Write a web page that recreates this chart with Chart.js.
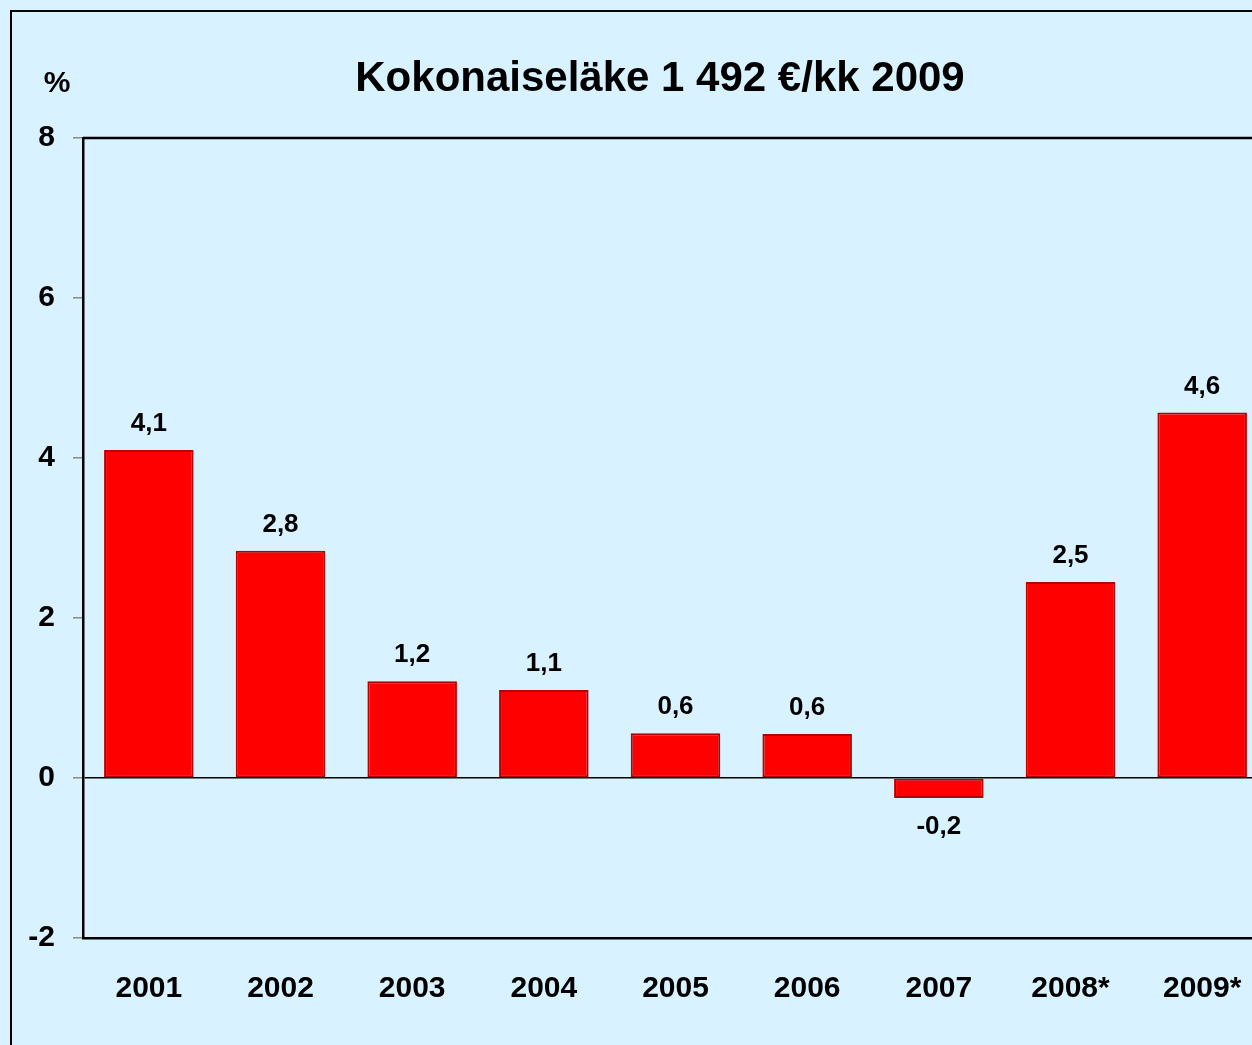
<!DOCTYPE html>
<html>
<head>
<meta charset="utf-8">
<script src="https://cdn.jsdelivr.net/npm/chart.js@4/dist/chart.umd.min.js"></script>
<style>
  html, body { margin: 0; padding: 0; overflow: hidden; background: #D9F2FF; }
  canvas { display: block; }
</style>
</head>
<body>
<canvas id="graphe" width="1300" height="1045"></canvas>
<script>
const vuodet = ['2001', '2002', '2003', '2004', '2005', '2006', '2007', '2008*', '2009*'];
const muutos = [4.1, 2.84, 1.21, 1.1, 0.56, 0.55, -0.25, 2.45, 4.57];
const arvoTekstit = ['4,1', '2,8', '1,2', '1,1', '0,6', '0,6', '-0,2', '2,5', '4,6'];
const otsikko = 'Kokonaiseläke 1 492 €/kk 2009';
const fontti = 'Liberation Sans, Arial, sans-serif';

// tausta, kehys, otsikko ja arvot
const piirto = {
    id: 'piirto',
    beforeDraw(chart) {
        const c = chart.ctx;
        c.save();
        c.fillStyle = '#D9F2FF';
        c.fillRect(0, 0, chart.width, chart.height);
        c.strokeStyle = '#000';
        c.lineWidth = 2;
        c.strokeRect(11, 11, 1400, 1200);
        c.restore();
    },
    afterDraw(chart) {
        const c = chart.ctx;
        const a = chart.chartArea;
        c.save();
        c.strokeStyle = '#000';
        c.lineWidth = 2.5;
        c.beginPath();
        c.moveTo(a.left, a.top);
        c.lineTo(a.right, a.top);
        c.lineTo(a.right, a.bottom);
        c.stroke();
        c.fillStyle = '#000';
        c.textAlign = 'center';
        c.textBaseline = 'middle';
        c.font = 'bold 42px ' + fontti;
        c.fillText(otsikko, 660, 79);
        c.font = 'bold 30px ' + fontti;
        c.fillText('%', 57, 84);
        c.font = 'bold 26px ' + fontti;
        const meta = chart.getDatasetMeta(0);
        meta.data.forEach((bar, i) => {
            const v = muutos[i];
            const y = v >= 0 ? bar.y - 26 : bar.y + 29;
            c.fillText(arvoTekstit[i], bar.x, y);
        });
        c.restore();
    }
};

new Chart(document.getElementById('graphe').getContext('2d'), {
    type: 'bar',
    data: {
        labels: vuodet,
        datasets: [{
            data: muutos,
            backgroundColor: '#FF0000',
            borderColor: '#B40000',
            borderWidth: 2,
            borderSkipped: false,
            barPercentage: 0.68,
            categoryPercentage: 1
        }]
    },
    options: {
        responsive: false,
        animation: false,
        layout: { padding: { top: 138, right: 32, left: 0, bottom: 0 } },
        plugins: { legend: { display: false }, tooltip: { enabled: false } },
        scales: {
            x: {
                grid: { display: false, drawTicks: false },
                border: { display: true, color: '#000', width: 2.5 },
                ticks: { color: '#000', font: { family: fontti, size: 30, weight: 'bold' }, padding: 33, maxRotation: 0 },
                afterFit(s) { s.height = 107; }
            },
            y: {
                min: -2,
                max: 8,
                grid: {
                    color: ctx => (ctx.tick && ctx.tick.value === 0) ? '#000' : 'rgba(0,0,0,0)',
                    lineWidth: 1.5,
                    tickColor: '#888',
                    tickLength: 10
                },
                border: { display: true, color: '#000', width: 2.5 },
                ticks: { stepSize: 2, color: '#000', font: { family: fontti, size: 30, weight: 'bold' }, padding: 18 },
                afterFit(s) { s.width = 83; }
            }
        }
    },
    plugins: [piirto]
});
</script>
</body>
</html>
